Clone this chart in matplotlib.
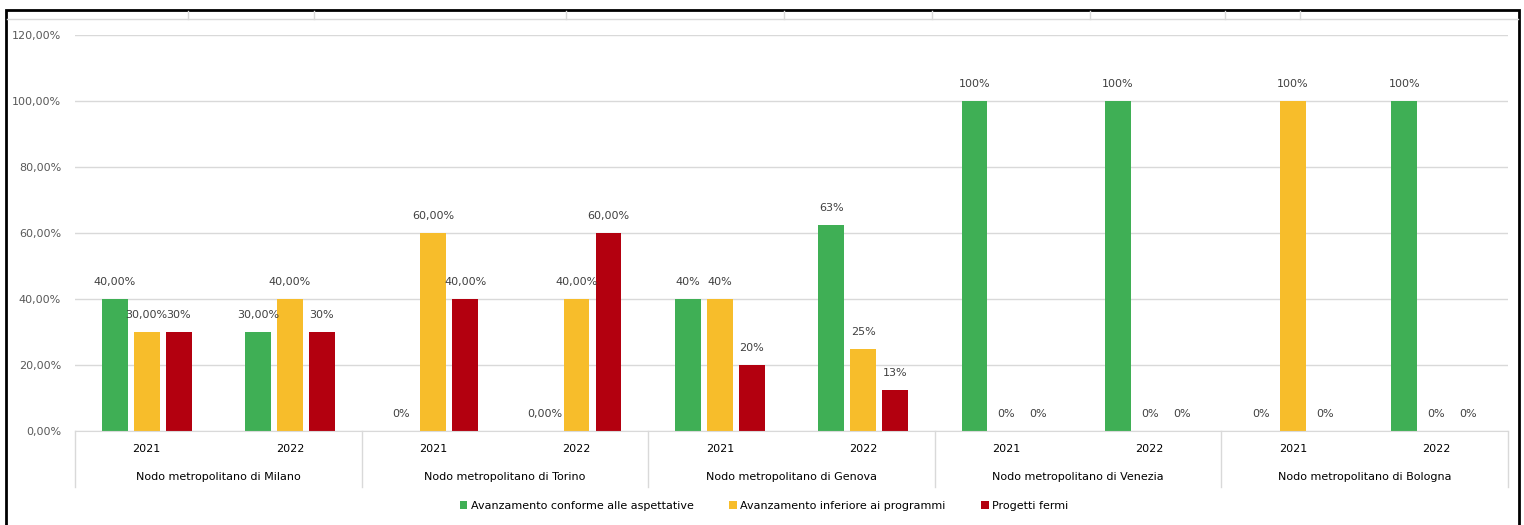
import matplotlib.pyplot as plt
from matplotlib.patches import Rectangle
from matplotlib.lines import Line2D
import matplotlib.transforms as mtransforms
import numpy as np

# Data
cities = ['Nodo metropolitano di Milano', 'Nodo metropolitano di Torino',
          'Nodo metropolitano di Genova', 'Nodo metropolitano di Venezia',
          'Nodo metropolitano di Bologna']
years = ['2021', '2022']
series_names = ['Avanzamento conforme alle aspettative',
                'Avanzamento inferiore ai programmi', 'Progetti fermi']
conforme = [40, 30, 0, 0, 40, 62.5, 100, 100, 0, 100]
inferiore = [30, 40, 60, 40, 40, 25, 0, 0, 100, 0]
fermi = [30, 30, 40, 60, 20, 12.5, 0, 0, 0, 0]
labels_conforme = ['40,00%', '30,00%', '0%', '0,00%', '40%', '63%', '100%', '100%', '0%', '100%']
labels_inferiore = ['30,00%', '40,00%', '60,00%', '40,00%', '40%', '25%', '0%', '0%', '100%', '0%']
labels_fermi = ['30%', '30%', '40,00%', '60,00%', '20%', '13%', '0%', '0%', '0%', '0%']
yticks = [0, 20, 40, 60, 80, 100, 120]
ytick_labels = ['0,00%', '20,00%', '40,00%', '60,00%', '80,00%', '100,00%', '120,00%']

colors = ['#3FAF55', '#F7BD2B', '#B3000F']
text_col = '#404040'
grid_col = '#D9D9D9'

W, H = 1524, 525
fig = plt.figure(figsize=(W / 100, H / 100), dpi=100)
plt.rcParams['font.family'] = 'DejaVu Sans'

# spreadsheet frame behind the chart (bottom edge runs off the picture)
fig.patches.append(Rectangle((6 / W, -0.05), 1513 / W, 1.05 - 10 / H, transform=fig.transFigure,
                             fill=False, edgecolor='black', linewidth=2, zorder=0))
fig.lines.append(Line2D([7 / W, 1518 / W], [1 - 19 / H] * 2, transform=fig.transFigure,
                        color=grid_col, linewidth=1))
for xc in [188, 314, 566, 784, 932, 1090, 1225, 1300]:
    fig.lines.append(Line2D([xc / W] * 2, [1 - 11 / H, 1 - 19 / H], transform=fig.transFigure,
                            color=grid_col, linewidth=1))

ax = fig.add_axes([75 / W, 1 - 431 / H, 1433 / W, 396 / H])
x = np.arange(len(conforme))
width = 0.18
offset = 0.223
all_vals = [conforme, inferiore, fermi]
all_labels = [labels_conforme, labels_inferiore, labels_fermi]
for i, (vals, labs) in enumerate(zip(all_vals, all_labels)):
    pos = x + (i - 1) * offset
    ax.bar(pos, vals, width=width, color=colors[i], label=series_names[i], zorder=2)
    for p, v, lab in zip(pos, vals, labs):
        ax.text(p, v + 3.5, lab, ha='center', va='bottom', fontsize=8, color=text_col)

ax.set_xlim(-0.5, 9.5)
ax.set_ylim(0, 120)
ax.set_yticks(yticks)
ax.set_yticklabels(ytick_labels, fontsize=8, color='#595959')
ax.tick_params(axis='y', length=0, pad=10)
ax.set_xticks([])
ax.grid(axis='y', color=grid_col, linewidth=1, zorder=0)
for s in ['top', 'right', 'left']:
    ax.spines[s].set_visible(False)
ax.spines['bottom'].set_color(grid_col)

# two-level category axis
trans = mtransforms.blended_transform_factory(ax.transData, ax.transAxes)
for i in x:
    ax.text(i, -0.045, years[i % 2], transform=trans, ha='center', va='center',
            fontsize=8, color='black')
for j, c in enumerate(cities):
    ax.text(2 * j + 0.5, -0.116, c, transform=trans, ha='center', va='center',
            fontsize=8, color='black')
for xs in [-0.5, 1.5, 3.5, 5.5, 7.5, 9.5]:
    ax.plot([xs, xs], [0, -0.141], transform=trans, color=grid_col, linewidth=1, clip_on=False)

fig.legend(loc='center', bbox_to_anchor=(764 / W, 1 - 506 / H), ncol=3, frameon=False,
           fontsize=8, handlelength=0.7, handleheight=0.7, handletextpad=0.3,
           columnspacing=3.2, labelcolor='black')

fig.savefig('out.png', dpi=100)
